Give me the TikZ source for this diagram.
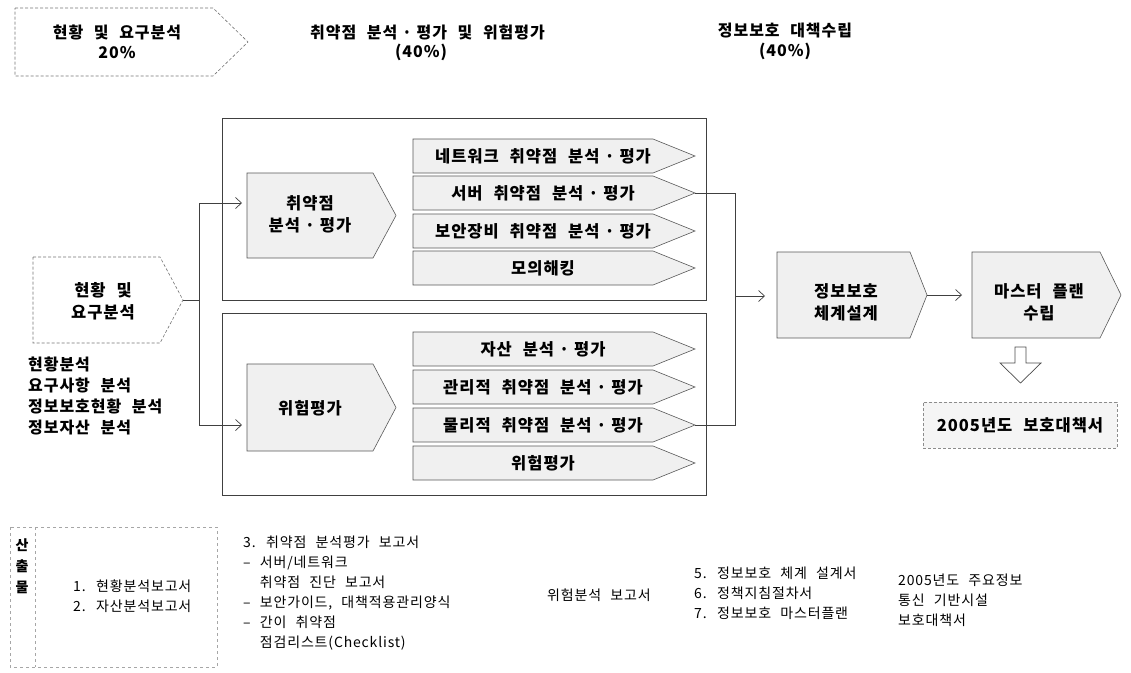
\documentclass[tikz,border=0pt]{standalone}
\usepackage{fontspec}
\setmainfont{Noto Sans CJK KR}[LetterSpace=6, WordSpace=2.3]
\usetikzlibrary{arrows.meta}
\newcommand{\chev}[7]{%
  \draw[#1] (#3,#4) -- ({#5-#7},#4) -- (#5,{(#4+#6)/2}) -- ({#5-#7},#6) -- (#3,#6) -- cycle;
  \coordinate (#2-tip) at (#5,{(#4+#6)/2});
  \coordinate (#2-w) at (#3,{(#4+#6)/2});}
\newcommand{\md}{\hspace{0.3em}·\hspace{0.3em}}
\begin{document}
\begin{tikzpicture}[x=1pt,y=-1pt,
  chevfill/.style={draw=black!65, fill=black!6, line width=0.6pt},
  chevplain/.style={draw=black!55, densely dashed, line width=0.6pt},
  box/.style={draw=black!75, line width=0.7pt},
  conn/.style={draw=black!75, line width=0.7pt},
  arr/.style={conn, -{Straight Barb[length=6pt,width=11pt,line width=0.7pt]}},
  lbl/.style={font=\bfseries\fontsize{16.5}{22}\selectfont, align=center, inner sep=0},
  ban/.style={font=\bfseries\fontsize{16}{20}\selectfont, align=center, inner sep=0},
  txt/.style={font=\fontsize{14}{20}\selectfont, align=left, inner sep=0, anchor=west},
  faint/.style={draw=black!35, dashed, line width=0.5pt}]
\useasboundingbox (0,0) rectangle (1131,672);

% ---------- top banner ----------
\chev{chevplain}{bn}{15}{8}{248}{76}{35}
\node[ban] (b1) at (117,42) {현황 및 요구분석\\20\%};
\node[ban, anchor=west] (b2) at (310,32) {취약점 분석\md 평가 및 위험평가};
\node[ban] (b2p) at (421,52) {(40\%)};
\node[ban] (b3) at (785,41) {정보보호 대책수립\\(40\%)};

% ---------- outer boxes ----------
\draw[box] (222,118) rectangle (706,300);
\draw[box] (222,313) rectangle (706,495);

% ---------- left input ----------
\chev{chevplain}{hy}{33}{257}{183}{343}{23}
\node[lbl] (hyt) at (103,301) {현황 및\\요구분석};
\node[txt, font=\bfseries\fontsize{16}{20.7}\selectfont] (hyl) at (28,396) {현황분석\\요구사항 분석\\정보보호현황 분석\\정보자산 분석};

% ---------- phase chevrons ----------
\chev{chevfill}{vul}{247}{173}{396}{258}{23}
\node[lbl] (vult) at (310,214) {취약점\\분석\md 평가};
\chev{chevfill}{risk}{247}{364}{396}{451}{23}
\node[lbl] (riskt) at (310,408) {위험평가};

% ---------- sub rows ----------
\chev{chevfill}{u1}{413}{139}{695}{173}{42}
\chev{chevfill}{u2}{413}{176}{695}{210}{42}
\chev{chevfill}{u3}{413}{214}{695}{248}{42}
\chev{chevfill}{u4}{413}{251}{695}{285}{42}
\node[lbl] (u1t) at (543,156) {네트워크 취약점 분석\md 평가};
\node[lbl] (u2t) at (543,193) {서버 취약점 분석\md 평가};
\node[lbl] (u3t) at (543,231) {보안장비 취약점 분석\md 평가};
\node[lbl] (u4t) at (543,268) {모의해킹};
\chev{chevfill}{l1}{413}{332}{695}{366}{42}
\chev{chevfill}{l2}{413}{370}{695}{404}{42}
\chev{chevfill}{l3}{413}{408}{695}{442}{42}
\chev{chevfill}{l4}{413}{446}{695}{480}{42}
\node[lbl] (l1t) at (543,349) {자산 분석\md 평가};
\node[lbl] (l2t) at (543,387) {관리적 취약점 분석\md 평가};
\node[lbl] (l3t) at (543,425) {물리적 취약점 분석\md 평가};
\node[lbl] (l4t) at (543,463) {위험평가};

% ---------- right side ----------
\chev{chevfill}{is}{777}{252}{927}{338}{17}
\node[lbl] (ist) at (846,302) {정보보호\\체계설계};
\chev{chevfill}{mp}{972}{252}{1121}{338}{21}
\node[lbl] (mpt) at (1039,302) {마스터 플랜\\수립};
\node[draw=black!45, densely dashed, fill=black!4, line width=0.5pt, minimum width=194pt, minimum height=46pt,
      font=\bfseries\fontsize{16.5}{20}\selectfont, inner sep=0] (plan) at (1020,425) {2005년도 보호대책서};
\draw[draw=black!70, fill=white, line width=0.7pt] (1015,347) -- (1026,347) -- (1026,363) -- (1041,363)
   -- (1020.5,383) -- (1000,363) -- (1015,363) -- cycle;

% ---------- connectors ----------
\coordinate (jl) at (199,300);
\coordinate (vin) at (242,203);
\coordinate (rin) at (242,425);
\draw[conn] (hy-tip) -- (jl);
\draw[arr] (jl) |- (vin);
\draw[arr] (jl) |- (rin);
\coordinate (jm) at (735,296);
\coordinate (isin) at (765,296);
\coordinate (mpin) at (962,295);
\draw[conn] (u2-tip) -| (jm);
\draw[conn] (l3-tip) -| (jm);
\draw[arr] (jm) -- (isin);
\draw[arr] (is-tip) -- (mpin);

% ---------- deliverables ----------
\draw[faint] (10,527) rectangle (217,667);
\draw[faint] (35,527) -- (35,667);
\node[lbl, font=\bfseries\fontsize{14}{21}\selectfont] (san) at (22,566) {산\\출\\물};
\node[txt] (d12) at (73,596) {1. 현황분석보고서\\2. 자산분석보고서};
\node[txt] (d3) at (243,593) {3. 취약점 분석평가 보고서\\– 서버/네트워크\\\hphantom{– }취약점 진단 보고서\\– 보안가이드, 대책적용관리양식\\– 간이 취약점\\\hphantom{– }점검리스트(Checklist)};
\node[txt] (d4) at (547,595) {위험분석 보고서};
\node[txt] (d57) at (694,593) {5. 정보보호 체계 설계서\\6. 정책지침절차서\\7. 정보보호 마스터플랜};
\node[txt] (d8) at (898,600) {2005년도 주요정보\\통신 기반시설\\보호대책서};
\end{tikzpicture}
\end{document}
